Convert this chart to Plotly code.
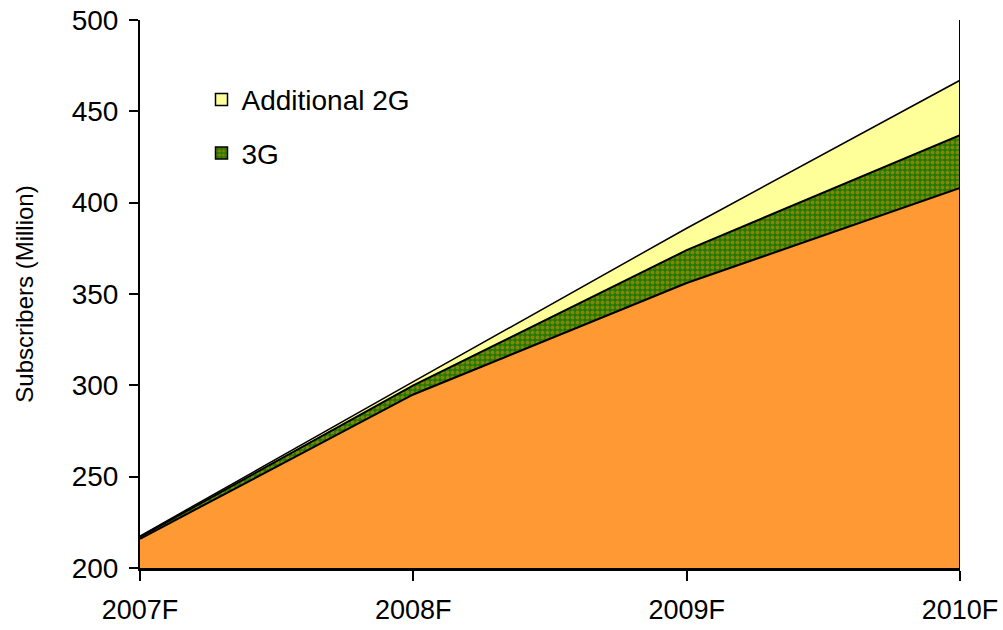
import plotly.graph_objects as go

# Subscriber forecast (millions), stacked
years = ["2007F", "2008F", "2009F", "2010F"]
base_2g = [216, 295, 356, 408]
subs_3g = [1, 5, 18, 29]
additional_2g = [0.5, 2, 12, 30]

y_ticks = [200, 250, 300, 350, 400, 450, 500]

x = list(range(len(years)))
font_family = "Liberation Sans"

ORANGE = "#FF9933"
GREEN = "#1E7A00"
DOTS = "#E89010"
YELLOW = "#FFFF99"
dot_pattern = dict(shape=".", bgcolor=GREEN, fgcolor=DOTS,
                   size=5, solidity=0.5, fillmode="overlay")

fig = go.Figure()

fig.add_trace(go.Scatter(
    x=x, y=base_2g, stackgroup="s", mode="lines",
    line=dict(color="black", width=2),
    fillcolor=ORANGE, showlegend=False, name="2G",
))
fig.add_trace(go.Scatter(
    x=x, y=subs_3g, stackgroup="s", mode="lines",
    line=dict(color="black", width=2),
    fillcolor=GREEN, fillpattern=dot_pattern,
    name="3G", showlegend=False,
))
fig.add_trace(go.Scatter(
    x=x, y=additional_2g, stackgroup="s", mode="lines",
    line=dict(color="black", width=1.5),
    fillcolor=YELLOW, name="Additional 2G", showlegend=False,
))

# legend entries drawn as square swatches
fig.add_trace(go.Bar(x=[None], y=[None], name="Additional 2G", legendgroup="g2",
                     marker=dict(color=YELLOW, line=dict(color="black", width=1.5)),
                     legendrank=1))
fig.add_trace(go.Bar(x=[None], y=[None], name="3G", legendgroup="g3",
                     marker=dict(color=GREEN, pattern=dot_pattern,
                                 line=dict(color="black", width=1.5)),
                     legendrank=2))

# right-hand frame line
fig.add_shape(type="line", xref="x", yref="paper", x0=3, x1=3, y0=0, y1=1,
              line=dict(color="black", width=2))

fig.update_layout(
    width=1003, height=630,
    margin=dict(l=140, r=43, t=20, b=62, autoexpand=False),
    paper_bgcolor="white", plot_bgcolor="white",
    font=dict(family=font_family, color="black"),
    showlegend=True,
    legend=dict(x=0.075, y=0.9, xanchor="left", yanchor="top",
                bgcolor="rgba(0,0,0,0)", font=dict(size=28, family=font_family),
                tracegroupgap=14, itemwidth=30, traceorder="grouped"),
    xaxis=dict(range=[0, 3], tickvals=x, ticktext=years, showgrid=False,
               showline=True, linecolor="black", linewidth=3,
               ticks="outside", ticklen=10, tickcolor="black", tickwidth=1.5,
               ticklabelstandoff=6, automargin=False,
               tickfont=dict(size=27, family=font_family), zeroline=False),
    yaxis=dict(range=[200, 500], tickvals=y_ticks, showgrid=False,
               showline=True, linecolor="black", linewidth=2,
               ticks="outside", ticklen=9, tickcolor="black", tickwidth=1.5,
               ticklabelstandoff=5, automargin=False,
               tickfont=dict(size=28, family=font_family), zeroline=False,
               title=dict(text="Subscribers (Million)",
                          font=dict(size=24, family=font_family), standoff=31)),
)

fig.write_html("out.html")
